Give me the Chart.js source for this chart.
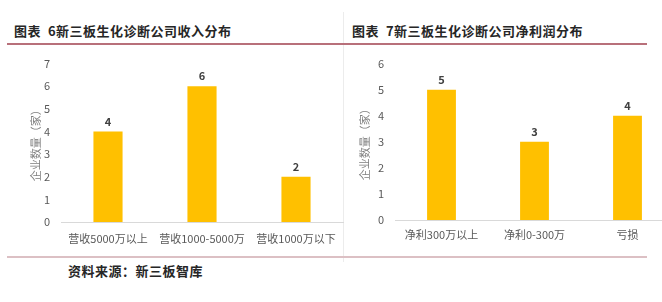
<!DOCTYPE html>
<html>
<head>
<meta charset="utf-8">
<script src="https://cdn.jsdelivr.net/npm/chart.js@4/dist/chart.umd.min.js"></script>
<style>
  html, body { margin:0; padding:0; background:#fff; overflow:hidden; }
  body { width:662px; height:302px; position:relative; font-family:"Noto Sans CJK SC","Noto Sans",sans-serif; }
  .title { position:absolute; top:21px; font-size:13px; font-weight:bold; color:#262626; white-space:nowrap; letter-spacing:0.5px; }
  .rule { position:absolute; left:7px; width:640px; }
  .box { position:absolute; }
  .box canvas { display:block; }
  .src { position:absolute; left:68px; top:261px; font-size:13px; font-weight:bold; color:#262626; letter-spacing:0.5px; }
  .vsep { position:absolute; left:343px; top:12px; width:1px; height:250px; background:#ececec; }
</style>
</head>
<body>
<div class="title" style="left:14px;">图表&nbsp;&nbsp;6新三板生化诊断公司收入分布</div>
<div class="title" style="left:352px;">图表&nbsp;&nbsp;7新三板生化诊断公司净利润分布</div>
<div class="vsep"></div>
<div class="rule" style="top:43px;height:2px;background:#b8707a;"></div>
<div class="rule" style="top:256px;height:2px;background:#dcc0c4;"></div>
<div class="box" style="left:20px;top:46px;width:330px;height:210px;"><canvas id="c1" width="330" height="210"></canvas></div>
<div class="box" style="left:355px;top:46px;width:330px;height:210px;"><canvas id="c2" width="330" height="210"></canvas></div>
<div class="src">资料来源：新三板智库</div>
<script>
const incomeCategories = ['营收5000万以上', '营收1000-5000万', '营收1000万以下'];
const incomeValues = [4, 6, 2];
const incomeMax = 7;
const profitCategories = ['净利300万以上', '净利0-300万', '亏损'];
const profitValues = [5, 3, 4];
const profitMax = 6;
const yTitle = '企业数量（家）';

const barColor = '#FFC000';
const textColor = '#595959';
const fontFamily = '"Noto Sans CJK SC","Noto Sans",sans-serif';

const valueLabels = {
  id: 'valueLabels',
  afterDatasetsDraw(chart) {
    const ctx = chart.ctx;
    ctx.save();
    ctx.font = 'bold 11px ' + fontFamily;
    ctx.fillStyle = '#404040';
    ctx.textAlign = 'center';
    ctx.textBaseline = 'middle';
    chart.getDatasetMeta(0).data.forEach((bar, i) => {
      ctx.fillText(String(chart.data.datasets[0].data[i]), bar.x, bar.y - 10);
    });
    ctx.restore();
  }
};

function makeChart(id, cats, vals, maxV, opts) {
  const chart = new Chart(document.getElementById(id), {
    type: 'bar',
    data: {
      labels: cats,
      datasets: [{ data: vals, backgroundColor: barColor, borderWidth: 0,
                   categoryPercentage: 1, barPercentage: opts.barPct }]
    },
    options: {
      responsive: false,
      animation: false,
      devicePixelRatio: 1,
      layout: { padding: { top: opts.targetTop, right: opts.padRight, left: 0, bottom: 0 } },
      plugins: { legend: { display: false }, tooltip: { enabled: false } },
      scales: {
        x: {
          grid: { display: false, drawTicks: false },
          border: { display: true, color: '#d9d9d9', width: 1 },
          ticks: { color: textColor, font: { family: fontFamily, size: 11 }, padding: opts.xPad, maxRotation: 0, autoSkip: false },
          afterFit(s) { s.height = opts.xHeight; }
        },
        y: {
          min: 0, max: maxV,
          grid: { display: false, drawTicks: false },
          border: { display: false },
          ticks: { stepSize: 1, color: textColor, font: { family: fontFamily, size: 11 }, padding: opts.yPad },
          title: { display: true, text: yTitle, color: '#7f7f7f', font: { family: fontFamily, size: 11 }, padding: { top: opts.titlePad, bottom: 0 } },
          afterFit(s) { s.width = opts.yWidth; }
        }
      }
    },
    plugins: [valueLabels]
  });
  // align the plot area to the reference's plot box
  for (let k = 0; k < 3; k++) {
    const ca = chart.chartArea;
    const dTop = opts.targetTop - ca.top;
    const dBot = ca.bottom - opts.targetBottom;
    if (Math.abs(dTop) < 0.5 && Math.abs(dBot) < 0.5) break;
    chart.options.layout.padding.top += dTop;
    opts.xHeight += dBot;
    chart.update();
  }
  return chart;
}

makeChart('c1', incomeCategories, incomeValues, incomeMax,
  { barPct: 0.31, targetTop: 14, targetBottom: 176, padRight: 7, xHeight: 34, xPad: 10, yWidth: 41, yPad: 11, titlePad: 9 });
makeChart('c2', profitCategories, profitValues, profitMax,
  { barPct: 0.31, targetTop: 13, targetBottom: 174, padRight: 11, xHeight: 36, xPad: 8, yWidth: 40, yPad: 11, titlePad: 3 });
</script>
</body>
</html>
